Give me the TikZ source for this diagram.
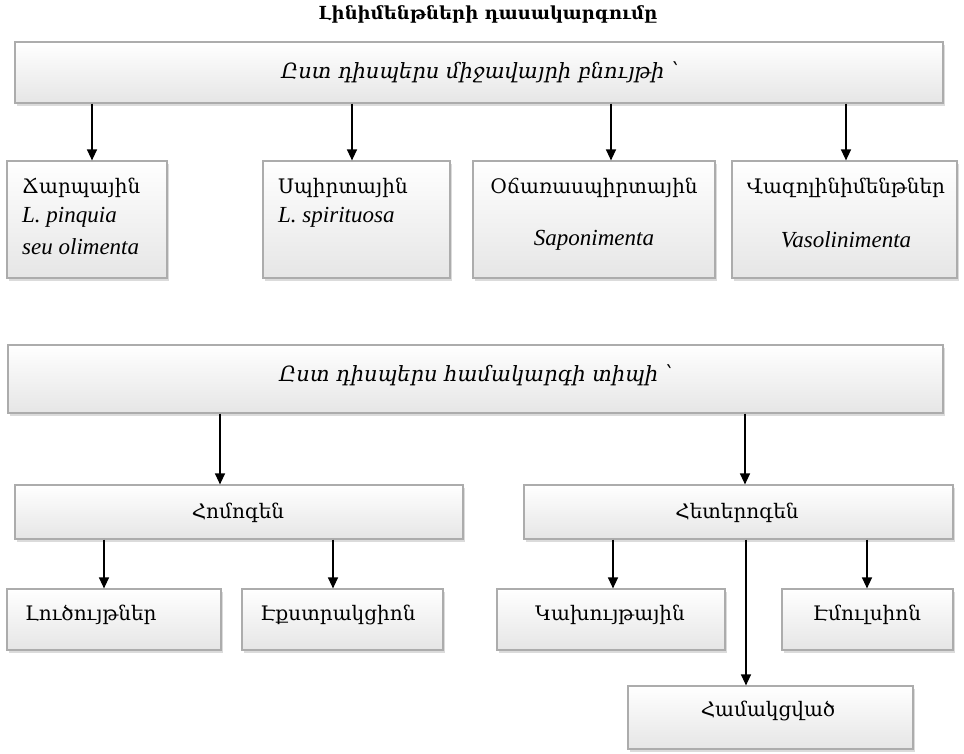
\documentclass[tikz,border=0pt]{standalone}
\usepackage{fontspec}
\setmainfont{DejaVu Serif}
\newfontfamily\latfont{Liberation Serif}
\usetikzlibrary{arrows.meta,shadows}
\tikzset{
  box/.style 2 args={draw=gray!65, line width=1.2pt, top color=white, bottom color=gray!20,
    drop shadow={shadow xshift=2pt, shadow yshift=-3pt, opacity=0.35, fill=gray!80},
    inner sep=0pt, minimum width=#1pt, minimum height=#2pt},
  txt/.style={font=\fontsize{20}{24}\selectfont, inner sep=0pt},
  head/.style={font=\itshape\fontsize{21}{26}\selectfont, inner sep=0pt},
  lat/.style={font=\latfont\itshape\fontsize{23}{26}\selectfont, inner sep=0pt},
  arr/.style={draw=black, line width=1.3pt, -{Triangle[length=11pt,width=10pt]}}
}
\begin{document}
\begin{tikzpicture}[x=1pt,y=-1pt]
\useasboundingbox (0,0) rectangle (964,753);
\node[font=\bfseries\fontsize{18}{20}\selectfont, inner sep=0pt] (title) at (488,14) {Լինիմենթների դասակարգումը};
% level 1
\node[box={928}{61}] (A) at (479,72.5) {};
\node[head] (Atxt) at (480,72) {Ըստ դիսպերս միջավայրի բնույթի ՝};
\node[box={160}{117}] (b1) at (87,219.5) {};
\node[box={187}{117}] (b2) at (356.5,219.5) {};
\node[box={242}{117}] (b3) at (594,219.5) {};
\node[box={225}{117}] (b4) at (844.5,219.5) {};
\node[txt, anchor=west] (b1t1) at (22,188) {Ճարպային};
\node[lat, anchor=west] (b1t2) at (22,217) {L. pinquia};
\node[lat, anchor=west] (b1t3) at (22,247) {seu olimenta};
\node[txt, anchor=west] (b2t1) at (278,188) {Սպիրտային};
\node[lat, anchor=west] (b2t2) at (278,217) {L. spirituosa};
\node[txt] (b3t1) at (594,188) {Օճառասպիրտային};
\node[lat] (b3t2) at (594,240) {Saponimenta};
\node[txt] (b4t1) at (846,188) {Վազոլինիմենթներ};
\node[lat] (b4t2) at (846,240) {Vasolinimenta};
\draw[arr] ([xshift=5pt]b1.north |- A.south) -- ([xshift=5pt]b1.north);
\draw[arr] ([xshift=-4.5pt]b2.north |- A.south) -- ([xshift=-4.5pt]b2.north);
\draw[arr] ([xshift=17pt]b3.north |- A.south) -- ([xshift=17pt]b3.north);
\draw[arr] ([xshift=1.5pt]b4.north |- A.south) -- ([xshift=1.5pt]b4.north);
% level 2
\node[box={935}{68}] (B) at (475.5,379) {};
\node[head] (Btxt) at (476,375) {Ըստ դիսպերս համակարգի տիպի ՝};
\node[box={448}{54}] (hom) at (239,512) {};
\node[txt] (homt) at (238,513) {Հոմոգեն};
\node[box={429}{54}] (het) at (738.5,512) {};
\node[txt] (hett) at (737,513) {Հետերոգեն};
\node[box={214}{61}] (luc) at (114,619.5) {};
\node[txt, anchor=west] (luct) at (25,615) {Լուծույթներ};
\node[box={201}{61}] (eks) at (342.5,619.5) {};
\node[txt] (ekst) at (338,615) {Էքստրակցիոն};
\node[box={228}{61}] (kax) at (611,619.5) {};
\node[txt] (kaxt) at (610,615) {Կախույթային};
\node[box={171}{61}] (emu) at (867.5,619.5) {};
\node[txt] (emut) at (867,615) {Էմուլսիոն};
\node[box={285}{63}] (ham) at (770.5,717.5) {};
\node[txt] (hamt) at (768,711) {Համակցված};
\draw[arr] ([xshift=-19pt]hom.north |- B.south) -- ([xshift=-19pt]hom.north);
\draw[arr] ([xshift=6.5pt]het.north |- B.south) -- ([xshift=6.5pt]het.north);
\draw[arr] ([xshift=-10pt]luc.north |- hom.south) -- ([xshift=-10pt]luc.north);
\draw[arr] ([xshift=-9.5pt]eks.north |- hom.south) -- ([xshift=-9.5pt]eks.north);
\draw[arr] ([xshift=2pt]kax.north |- het.south) -- ([xshift=2pt]kax.north);
\draw[arr] ([xshift=-0.5pt]emu.north |- het.south) -- ([xshift=-0.5pt]emu.north);
\draw[arr] ([xshift=-24.5pt]ham.north |- het.south) -- ([xshift=-24.5pt]ham.north);
\end{tikzpicture}
\end{document}
